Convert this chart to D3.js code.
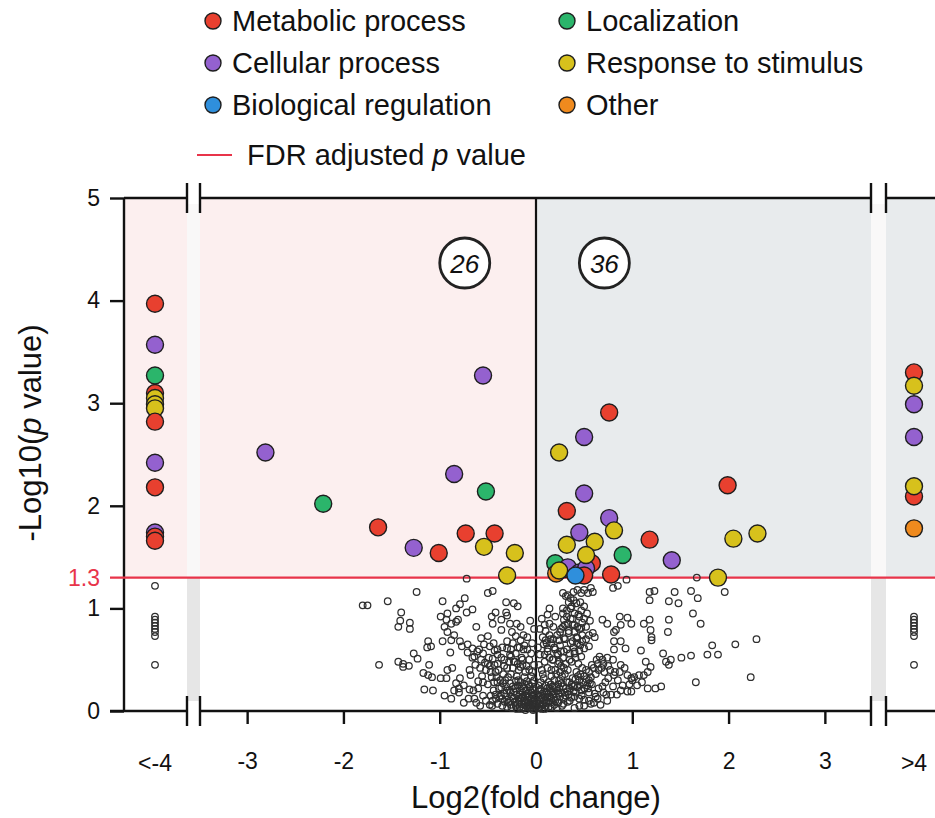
<!DOCTYPE html>
<html>
<head>
<meta charset="utf-8">
<script src="https://cdn.jsdelivr.net/npm/d3@7"></script>
<style>
  body { margin: 0; background: #fff; }
  svg text { font-family: "Liberation Sans", Arial, Helvetica, sans-serif; fill: #111; }
</style>
</head>
<body>
<svg id="chart" width="935" height="818"></svg>
<script>
// ---- data -------------------------------------------------------------
const categories = ["Metabolic process", "Cellular process", "Biological regulation",
                    "Localization", "Response to stimulus", "Other"];
const catColors  = ["#e8402f", "#9461cf", "#2f8fdc", "#2bb56b", "#d7c11c", "#ef8a1e"];
const legendOrder = [0, 3, 1, 4, 2, 5];          // two columns, row by row
const xTicks = [-3, -2, -1, 0, 1, 2, 3];
const yTicks = [0, 1, 2, 3, 4, 5];
const outerLabels = ["<-4", ">4"];
const fdrThreshold = 1.3;

// significant proteins with log2FC < -4 : [-log10 p, category]
const sigBelow = [[3.97,0],[3.57,1],[3.27,3],[3.10,0],[3.05,4],[2.99,4],[2.95,4],[2.82,0],
                  [2.42,1],[2.18,0],[1.74,1],[1.70,0],[1.66,0]];
// significant proteins with log2FC > 4
const sigAbove = [[3.30,0],[3.17,4],[2.99,1],[2.67,1],[2.09,0],[2.19,4],[1.78,5]];
// significant proteins inside the plotted range : [log2FC, -log10 p, category]
const sigMain = [
  [-2.81,2.52,1],[-2.21,2.02,3],[-1.64,1.79,0],[-1.27,1.59,1],[-1.01,1.54,0],[-0.73,1.73,0],
  [-0.85,2.31,1],[-0.55,3.27,1],[-0.52,2.14,3],[-0.43,1.73,0],[-0.54,1.60,4],[-0.22,1.54,4],
  [-0.30,1.32,4],
  [0.76,2.91,0],[0.50,2.67,1],[0.24,2.52,4],[0.50,2.12,1],[0.32,1.95,0],[0.76,1.88,1],
  [0.81,1.76,4],[0.45,1.74,1],[0.32,1.62,4],[0.61,1.65,4],[1.18,1.67,0],[0.90,1.52,3],
  [1.41,1.47,1],[1.99,2.20,0],[2.05,1.68,4],[2.30,1.73,4],[1.89,1.30,4],[0.78,1.33,0],
  [0.58,1.44,0],[0.28,1.38,0],[0.20,1.44,3],[0.21,1.34,5],[0.33,1.40,1],[0.45,1.35,1],
  [0.52,1.39,1],[0.52,1.52,4],[0.24,1.37,4],[0.50,1.32,0],[0.41,1.32,2]
];

// non-significant proteins beyond the break : -log10 p
const nsBelow = [1.22,0.92,0.89,0.86,0.83,0.80,0.77,0.73,0.45];
const nsAbove = [0.92,0.89,0.86,0.83,0.80,0.77,0.73,0.45];

// non-significant proteins in range : [log2FC, -log10 p]
const nsMain = [
  [-1.80,1.03],[-1.75,1.03],[-1.54,1.07],[-1.24,1.16],[-1.40,0.96],[-1.41,0.88],[-1.43,0.82],
  [-1.31,0.86],[-1.31,0.80],[-1.63,0.45],[-1.43,0.48],[-1.38,0.46],[-1.32,0.44],[-1.38,0.43],
  [-1.27,0.56],[-1.23,0.51],[-1.12,0.68],[-1.09,0.63],[-1.13,0.62],[-1.11,0.45],[-1.17,0.37],
  [-1.12,0.35],[-1.08,0.33],[-1.16,0.21],[-1.07,0.20],[-0.97,1.07],[-0.99,0.92],[-0.92,0.95],
  [-0.93,0.89],[-0.88,0.85],[-0.83,0.87],[-0.81,0.89],[-0.83,1.00],[-0.79,1.04],[-0.74,1.10],
  [-0.72,0.96],[-0.66,0.99],[-0.95,0.82],[-0.92,0.77],[-0.97,0.68],[-0.88,0.69],[-0.85,0.74],
  [-0.79,0.68],[-0.77,0.63],[-0.89,0.57],[-0.92,0.40],[-0.87,0.42],[-0.79,0.32],[-0.69,0.40],
  [-0.99,0.32],[-0.93,0.32],[-0.83,0.27],[-0.80,0.22],[-0.69,0.21],[-0.64,0.12],[-0.62,0.82],
  [-0.71,0.65],[-0.66,0.61],[-0.71,0.57],[-0.64,0.53],[-0.61,0.58],[-0.57,0.71],[-0.50,0.73],
  [-0.54,0.65],[-0.48,0.63],[-0.50,1.15],[-0.45,1.17],[-0.31,1.06],[-0.23,1.05],[-0.19,1.02],
  [-0.42,0.96],[-0.46,0.92],[-0.45,0.85],[-0.36,0.89],[-0.31,0.96],[-0.30,0.93],[-0.36,0.79],
  [-0.27,0.85],[-0.20,0.85],[-0.16,0.82],[-0.25,0.77],[-0.21,0.73],[-0.13,0.74],[-0.16,0.69],
  [-0.24,0.66],[-0.30,0.61],[-0.19,0.62],[-0.12,0.64],[-0.43,0.59],[-0.40,0.55],[-0.45,0.51],
  [-0.50,0.46],[-0.40,0.46],[-0.33,0.50],[-0.26,0.53],[-0.23,0.48],[-0.14,0.50],[-0.16,0.43],
  [-0.72,1.29],[-0.95,0.15],[-0.88,0.12],[-0.75,0.08],[-0.58,0.05],[-0.85,0.20],[-0.60,0.22],
  [-0.55,0.28],
  [-0.02,0.02],[-0.04,0.05],[-0.06,0.03],[-0.08,0.08],[-0.10,0.05],[-0.12,0.10],[-0.05,0.12],
  [-0.15,0.07],[-0.18,0.12],[-0.20,0.16],[-0.14,0.18],[-0.22,0.09],[-0.25,0.14],[-0.28,0.20],
  [-0.30,0.11],[-0.24,0.24],[-0.33,0.17],[-0.36,0.23],[-0.38,0.14],[-0.40,0.28],[-0.32,0.30],
  [-0.44,0.20],[-0.46,0.33],[-0.42,0.38],[-0.50,0.26],[-0.52,0.40],[-0.48,0.44],[-0.56,0.34],
  [-0.60,0.29],[-0.58,0.42],[-0.10,0.20],[-0.08,0.26],[-0.16,0.28],[-0.20,0.34],[-0.12,0.33],
  [-0.26,0.36],[-0.30,0.42],[-0.18,0.40],[-0.03,0.15],[-0.06,0.20],[-0.35,0.05],[-0.45,0.10],
  [-0.55,0.15],[-0.65,0.20],[-0.70,0.12],[-0.62,0.08],[-0.75,0.25],[-0.68,0.35],[-0.80,0.18],
  [-0.02,0.30],[-0.04,0.38],[-0.10,0.44],[-0.07,0.50],[-0.15,0.52],[-0.22,0.48],[-0.13,0.60],
  [-0.05,0.56],[-0.27,0.55],[-0.04,0.66],[-0.09,0.72],[-0.02,0.80],[-0.06,0.88],
  [-0.01,0.06],[-0.03,0.10],[-0.07,0.14],[-0.09,0.17],[-0.11,0.15],[-0.13,0.22],[-0.17,0.20],
  [-0.19,0.25],[-0.21,0.29],[-0.23,0.19],[-0.27,0.27],[-0.29,0.33],[-0.31,0.24],[-0.34,0.36],
  [-0.37,0.30],[-0.39,0.40],[-0.41,0.33],[-0.43,0.45],[-0.47,0.38],[-0.49,0.52],[-0.53,0.47],
  [-0.55,0.56],[-0.57,0.50],[-0.59,0.60],[-0.63,0.45],[-0.66,0.52],[-0.11,0.38],[-0.14,0.45],
  [-0.19,0.46],[-0.24,0.42],[-0.28,0.48],[-0.33,0.44],[-0.36,0.52],[-0.40,0.60],[-0.44,0.66],
  [-0.35,0.62],[-0.30,0.68],[-0.26,0.60],[-0.21,0.56],[-0.17,0.62],[-0.09,0.60],[-0.07,0.40],
  [-0.04,0.27],[-0.01,0.20],[-0.02,0.45],[-0.05,0.34],[-0.08,0.04],[-0.13,0.03],[-0.17,0.04],
  [-0.21,0.05],[-0.26,0.06],[-0.30,0.04],[-0.40,0.07],[-0.48,0.06],[-0.52,0.10],[-0.42,0.16],
  [-0.47,0.15],[-0.35,0.12],[-0.27,0.10],[-0.20,0.02],[-0.11,0.01],[-0.15,0.13],[-0.09,0.11],
  [-0.06,0.08],[-0.03,0.01],
  [-0.005,0.04],[-0.015,0.12],[-0.025,0.22],[-0.035,0.07],[-0.045,0.18],[-0.055,0.10],
  [-0.065,0.24],[-0.075,0.06],[-0.085,0.13],[-0.095,0.29],[-0.105,0.09],[-0.115,0.26],
  [-0.125,0.06],[-0.135,0.14],[-0.145,0.24],[-0.155,0.02],[-0.165,0.16],[-0.175,0.09],
  [-0.185,0.30],[-0.195,0.07],[-0.215,0.22],[-0.235,0.12],[-0.255,0.03],[-0.265,0.18],
  [-0.285,0.08],[-0.305,0.20],[-0.325,0.09],[-0.345,0.27],[-0.365,0.15],[-0.385,0.22],
  [-0.415,0.12],[-0.435,0.28],[-0.455,0.05],
  [0.02,0.03],[0.04,0.07],[0.06,0.02],[0.08,0.10],[0.10,0.05],[0.12,0.13],[0.05,0.15],
  [0.15,0.08],[0.18,0.16],[0.20,0.10],[0.14,0.22],[0.22,0.20],[0.25,0.14],[0.28,0.24],
  [0.30,0.18],[0.24,0.30],[0.32,0.28],[0.35,0.22],[0.38,0.32],[0.40,0.25],[0.30,0.36],
  [0.42,0.38],[0.45,0.30],[0.48,0.42],[0.50,0.34],[0.55,0.38],[0.60,0.42],[0.65,0.40],
  [0.70,0.46],[0.75,0.44],[0.80,0.50],[0.10,0.25],[0.08,0.32],[0.16,0.34],[0.20,0.40],
  [0.12,0.42],[0.26,0.44],[0.18,0.50],[0.22,0.56],[0.28,0.52],[0.32,0.60],[0.25,0.64],
  [0.35,0.50],[0.40,0.58],[0.30,0.70],[0.36,0.66],[0.42,0.72],[0.34,0.78],[0.40,0.84],
  [0.45,0.80],[0.38,0.90],[0.44,0.94],[0.50,0.90],[0.36,1.00],[0.42,1.05],[0.03,0.20],
  [0.05,0.28],[0.06,0.40],[0.09,0.48],[0.04,0.55],[0.12,0.58],[0.08,0.65],[0.15,0.70],
  [0.10,0.78],[0.14,0.85],[0.06,0.90],[0.35,0.10],[0.45,0.12],[0.55,0.18],[0.65,0.22],
  [0.72,0.28],[0.60,0.08],[0.50,0.05],[0.85,0.30],[0.90,0.25],[0.95,0.35],[1.00,0.30],
  [0.01,0.05],[0.03,0.11],[0.05,0.05],[0.07,0.13],[0.09,0.02],[0.11,0.08],[0.13,0.04],
  [0.16,0.12],[0.19,0.06],[0.21,0.14],[0.23,0.08],[0.26,0.18],[0.27,0.05],[0.29,0.12],
  [0.31,0.22],[0.33,0.09],[0.34,0.16],[0.37,0.26],[0.39,0.19],[0.41,0.31],[0.43,0.23],
  [0.46,0.36],[0.49,0.28],[0.52,0.40],[0.53,0.25],[0.57,0.33],[0.58,0.45],[0.62,0.36],
  [0.63,0.50],[0.68,0.42],[0.71,0.38],[0.74,0.52],[0.77,0.40],[0.11,0.18],[0.13,0.28],
  [0.15,0.20],[0.17,0.24],[0.19,0.30],[0.21,0.36],[0.23,0.26],[0.25,0.38],[0.27,0.34],
  [0.29,0.42],[0.31,0.46],[0.33,0.40],[0.35,0.56],[0.37,0.48],[0.39,0.62],[0.41,0.52],
  [0.43,0.66],[0.46,0.64],[0.48,0.68],[0.44,0.46],[0.26,0.58],[0.24,0.48],[0.20,0.60],
  [0.18,0.70],[0.22,0.74],[0.26,0.80],[0.30,0.84],[0.32,0.92],[0.28,0.95],[0.34,1.06],
  [0.31,1.12],[0.39,1.08],[0.46,1.06],[0.48,0.86],[0.52,0.82],[0.53,0.95],[0.56,0.88],
  [0.07,0.36],[0.03,0.45],[0.09,0.55],[0.02,0.62],[0.07,0.72],[0.11,0.66],[0.04,0.80],
  [0.12,0.94],[0.18,0.82],[0.20,0.92],[0.09,0.84],[0.16,0.40],[0.14,0.52],[0.40,0.14],
  [0.47,0.20],[0.58,0.26],[0.62,0.14],[0.70,0.18],[0.75,0.32],[0.80,0.24],[0.82,0.38],
  [0.88,0.20],[0.92,0.42],[0.97,0.26],[1.05,0.25],[1.10,0.28],[0.45,0.05],[0.40,0.03],
  [0.55,0.10],[0.67,0.06],[0.74,0.10],
  [0.005,0.08],[0.015,0.16],[0.025,0.25],[0.035,0.03],[0.045,0.21],[0.055,0.12],
  [0.065,0.17],[0.075,0.06],[0.085,0.19],[0.095,0.14],[0.105,0.10],[0.115,0.22],
  [0.125,0.17],[0.135,0.09],[0.145,0.14],[0.155,0.26],[0.165,0.04],[0.175,0.19],
  [0.185,0.11],[0.195,0.23],[0.215,0.03],[0.235,0.17],[0.245,0.22],[0.265,0.27],
  [0.285,0.07],[0.305,0.15],[0.325,0.19],[0.345,0.28],[0.365,0.13],[0.385,0.24],
  [0.415,0.18],[0.435,0.34],[0.455,0.25],[0.475,0.15],[0.505,0.22],[0.525,0.31],[0.56,0.27],
  [0.14,1.00],[0.28,1.15],[0.33,1.13],[0.36,1.10],[0.39,1.16],[0.43,1.18],[0.47,1.15],
  [0.50,1.18],[0.54,1.15],[0.57,1.20],[0.59,1.16],[0.80,1.20],[0.85,1.22],[0.94,1.28],
  [0.28,1.00],[0.32,0.98],[0.37,1.02],[0.40,0.95],[0.47,0.98],[0.50,1.02],[0.45,0.92],
  [0.36,0.90],[0.29,0.89],[0.28,0.82],[0.33,0.85],[0.38,0.84],[0.43,0.82],[0.47,0.81],
  [0.40,0.77],[0.34,0.76],[0.25,0.77],[0.14,0.74],[0.10,0.69],[0.16,0.66],[0.12,0.61],
  [0.19,0.62],[0.24,0.69],[0.29,0.71],[0.23,0.55],[0.29,0.58],[0.17,0.50],[0.23,0.46],
  [0.38,0.68],[0.43,0.71],[0.48,0.74],[0.52,0.70],[0.55,0.74],[0.59,0.76],[0.61,0.72],
  [0.55,0.63],[0.50,0.61],[0.45,0.59],[0.40,0.56],[0.47,0.53],[0.69,0.89],[0.74,0.85],
  [0.87,0.92],[0.95,0.91],[0.99,0.85],[0.88,0.84],[0.83,0.79],[0.81,0.77],[1.12,0.85],
  [1.18,0.89],[1.19,0.79],[1.20,0.72],[1.20,0.69],[1.37,0.77],[1.38,0.89],[1.18,1.16],
  [1.23,1.17],[1.18,1.08],[1.38,1.07],[1.44,1.16],[1.48,1.05],[1.61,1.17],[1.68,1.10],
  [1.63,0.95],[1.71,0.85],[1.96,1.16],[0.81,0.68],[0.88,0.68],[0.81,0.60],[0.93,0.61],
  [1.09,0.59],[1.32,0.56],[1.51,0.52],[1.61,0.54],[1.78,0.55],[1.89,0.55],[1.83,0.64],
  [2.07,0.65],[2.29,0.70],[0.66,0.53],[0.64,0.46],[0.69,0.50],[0.88,0.45],[0.87,0.38],
  [0.81,0.35],[1.14,0.48],[1.19,0.43],[1.16,0.38],[1.12,0.35],[1.07,0.35],[1.02,0.33],
  [0.99,0.32],[1.35,0.48],[1.38,0.45],[1.40,0.50],[1.66,0.28],[2.23,0.33],[1.16,0.22],
  [1.24,0.22],[1.30,0.24],[0.73,0.16],[0.78,0.16],[0.84,0.16],[0.95,0.19],[0.99,0.19],
  [0.54,0.22],[0.61,0.17],[0.50,0.11],[0.57,0.07],[0.64,0.12],[0.69,0.24],[0.55,0.30],
  [1.67,1.30]
];

// ---- layout -------------------------------------------------------------
const svg = d3.select("#chart");
const axisX = 124;                    // left y-axis position
const breakL = [187, 200], breakR = [871, 886];
const rightEdge = 935;
const x = d3.scaleLinear().domain([-3.5, 3.5]).range([199, 873]);
const xOuter = d3.scalePoint().domain(outerLabels).range([155, 914]);
const y = d3.scaleLinear().domain([0, 5]).range([711, 198]);
const yTop = y(5), yBase = y(0), yThr = y(fdrThreshold);

const pink = "#fcefef", blueGrey = "#e8ebed";

// shaded significance regions
const regions = [
  [axisX, breakL[0], pink], [breakL[1], x(0), pink],
  [x(0), breakR[0], blueGrey], [breakR[1], rightEdge, blueGrey]
];
svg.append("g").selectAll("rect").data(regions).join("rect")
  .attr("x", d => d[0]).attr("y", yTop)
  .attr("width", d => d[1] - d[0]).attr("height", yThr - yTop)
  .attr("fill", d => d[2]);

// axis-break gaps
[breakL, breakR].forEach(b => {
  svg.append("rect").attr("x", b[0]).attr("y", yTop + 6).attr("width", b[1] - b[0])
    .attr("height", yThr - yTop - 6).attr("fill", "#f9f8f8");
  svg.append("rect").attr("x", b[0]).attr("y", yThr).attr("width", b[1] - b[0])
    .attr("height", yBase - yThr - 10).attr("fill", "#e6e6e6");
});

// frame lines (broken at the axis breaks)
const segs = [[axisX, breakL[0]], [breakL[1], breakR[0]], [breakR[1], rightEdge]];
const frame = svg.append("g").attr("stroke", "#111").attr("stroke-width", 2.4);
segs.forEach(s => {
  frame.append("line").attr("x1", s[0]).attr("x2", s[1]).attr("y1", yTop).attr("y2", yTop);
  frame.append("line").attr("x1", s[0] - (s[0] === axisX ? 14 : 0)).attr("x2", s[1])
    .attr("y1", yBase).attr("y2", yBase);
});
frame.append("line").attr("x1", axisX).attr("x2", axisX).attr("y1", yTop).attr("y2", yBase);
frame.append("line").attr("x1", x(0)).attr("x2", x(0)).attr("y1", yTop).attr("y2", yBase)
  .attr("stroke-width", 2.2);
[breakL[0], breakL[1], breakR[0], breakR[1]].forEach(bx => {
  [yTop, yBase].forEach(by => {
    frame.append("line").attr("x1", bx).attr("x2", bx).attr("y1", by - 15).attr("y2", by + 15);
  });
});

// y axis ticks and labels
const yAxis = d3.axisLeft(y).tickValues(yTicks).tickSize(14).tickPadding(10)
  .tickFormat(d => String(d));
const gy = svg.append("g").attr("transform", `translate(${axisX},0)`).call(yAxis);
gy.select(".domain").remove();
gy.selectAll(".tick line").attr("stroke", "#111").attr("stroke-width", 2.4);
gy.selectAll(".tick text").style("font-size", "23px").attr("fill", "#111");

// x axis ticks and labels
const xAxis = d3.axisBottom(x).tickValues(xTicks).tickSize(13).tickPadding(29)
  .tickFormat(d => String(d));
const gx = svg.append("g").attr("transform", `translate(0,${yBase})`).call(xAxis);
gx.select(".domain").remove();
gx.selectAll(".tick line").attr("stroke", "#111").attr("stroke-width", 2.4);
gx.selectAll(".tick text").style("font-size", "23px").attr("fill", "#111");
svg.append("g").selectAll("text").data(outerLabels).join("text")
  .attr("x", d => xOuter(d)).attr("y", yBase + 60).attr("text-anchor", "middle")
  .style("font-size", "23px").text(d => d);

// FDR threshold line and label
svg.append("line").attr("x1", axisX - 14).attr("x2", rightEdge)
  .attr("y1", yThr).attr("y2", yThr).attr("stroke", "#e8344a").attr("stroke-width", 2.2);
svg.append("text").attr("x", axisX - 24).attr("y", yThr + 8).attr("text-anchor", "end")
  .style("font-size", "23px").style("fill", "#e8344a").text(fdrThreshold.toFixed(1));

// non-significant proteins
const ns = svg.append("g").attr("fill", "none").attr("stroke", "#2f2f2f").attr("stroke-width", 1.25);
ns.selectAll(".m").data(nsMain).join("circle").attr("class", "m")
  .attr("cx", d => x(d[0])).attr("cy", d => y(d[1])).attr("r", 3.3);
ns.selectAll(".lo").data(nsBelow).join("circle").attr("class", "lo")
  .attr("cx", xOuter("<-4")).attr("cy", d => y(d)).attr("r", 3.3);
ns.selectAll(".hi").data(nsAbove).join("circle").attr("class", "hi")
  .attr("cx", xOuter(">4")).attr("cy", d => y(d)).attr("r", 3.3);

// significant proteins, coloured by GO category
const sig = svg.append("g").attr("stroke", "#1e1e1e").attr("stroke-width", 1.4);
sig.selectAll(".m").data(sigMain).join("circle").attr("class", "m")
  .attr("cx", d => x(d[0])).attr("cy", d => y(d[1])).attr("r", 8.5)
  .attr("fill", d => catColors[d[2]]);
sig.selectAll(".lo").data(sigBelow).join("circle").attr("class", "lo")
  .attr("cx", xOuter("<-4")).attr("cy", d => y(d[0])).attr("r", 8.5)
  .attr("fill", d => catColors[d[1]]);
sig.selectAll(".hi").data(sigAbove).join("circle").attr("class", "hi")
  .attr("cx", xOuter(">4")).attr("cy", d => y(d[0])).attr("r", 8.5)
  .attr("fill", d => catColors[d[1]]);

// counts of down- and up-regulated proteins
const nDown = sigBelow.length + sigMain.filter(d => d[0] < 0).length;
const nUp = sigAbove.length + sigMain.filter(d => d[0] > 0).length;
const badges = [[-0.74, nDown], [0.71, nUp]];
const bg = svg.append("g").selectAll("g").data(badges).join("g")
  .attr("transform", d => `translate(${x(d[0])},263)`);
bg.append("circle").attr("r", 25).attr("fill", "#fff").attr("stroke", "#222").attr("stroke-width", 2.8);
bg.append("text").attr("text-anchor", "middle").attr("y", 9.5).style("font-size", "26px")
  .style("font-style", "italic").text(d => d[1]);

// axis titles
svg.append("text").attr("x", x(0)).attr("y", 808).attr("text-anchor", "middle")
  .style("font-size", "31px").text("Log2(fold change)");
const yt = svg.append("text").attr("transform", "translate(41,433) rotate(-90)")
  .attr("text-anchor", "middle").style("font-size", "31px");
yt.append("tspan").text("-Log10(");
yt.append("tspan").style("font-style", "italic").text("p");
yt.append("tspan").text(" value)");

// legend
const lg = svg.append("g");
const lgItems = lg.selectAll("g").data(legendOrder).join("g")
  .attr("transform", (c, i) => `translate(${i % 2 === 0 ? 213 : 567},${21 + Math.floor(i / 2) * 42})`);
lgItems.append("circle").attr("r", 8).attr("fill", c => catColors[c])
  .attr("stroke", "#1e1e1e").attr("stroke-width", 1.4);
lgItems.append("text").attr("x", 19).attr("y", 10).style("font-size", "29px")
  .text(c => categories[c]);
const fdrItem = lg.append("g").attr("transform", "translate(197,155)");
fdrItem.append("line").attr("x1", 0).attr("x2", 35).attr("stroke", "#e8344a").attr("stroke-width", 2.2);
const ft = fdrItem.append("text").attr("x", 50).attr("y", 10).style("font-size", "29px");
ft.append("tspan").text("FDR adjusted ");
ft.append("tspan").style("font-style", "italic").text("p");
ft.append("tspan").text(" value");
</script>
</body>
</html>
